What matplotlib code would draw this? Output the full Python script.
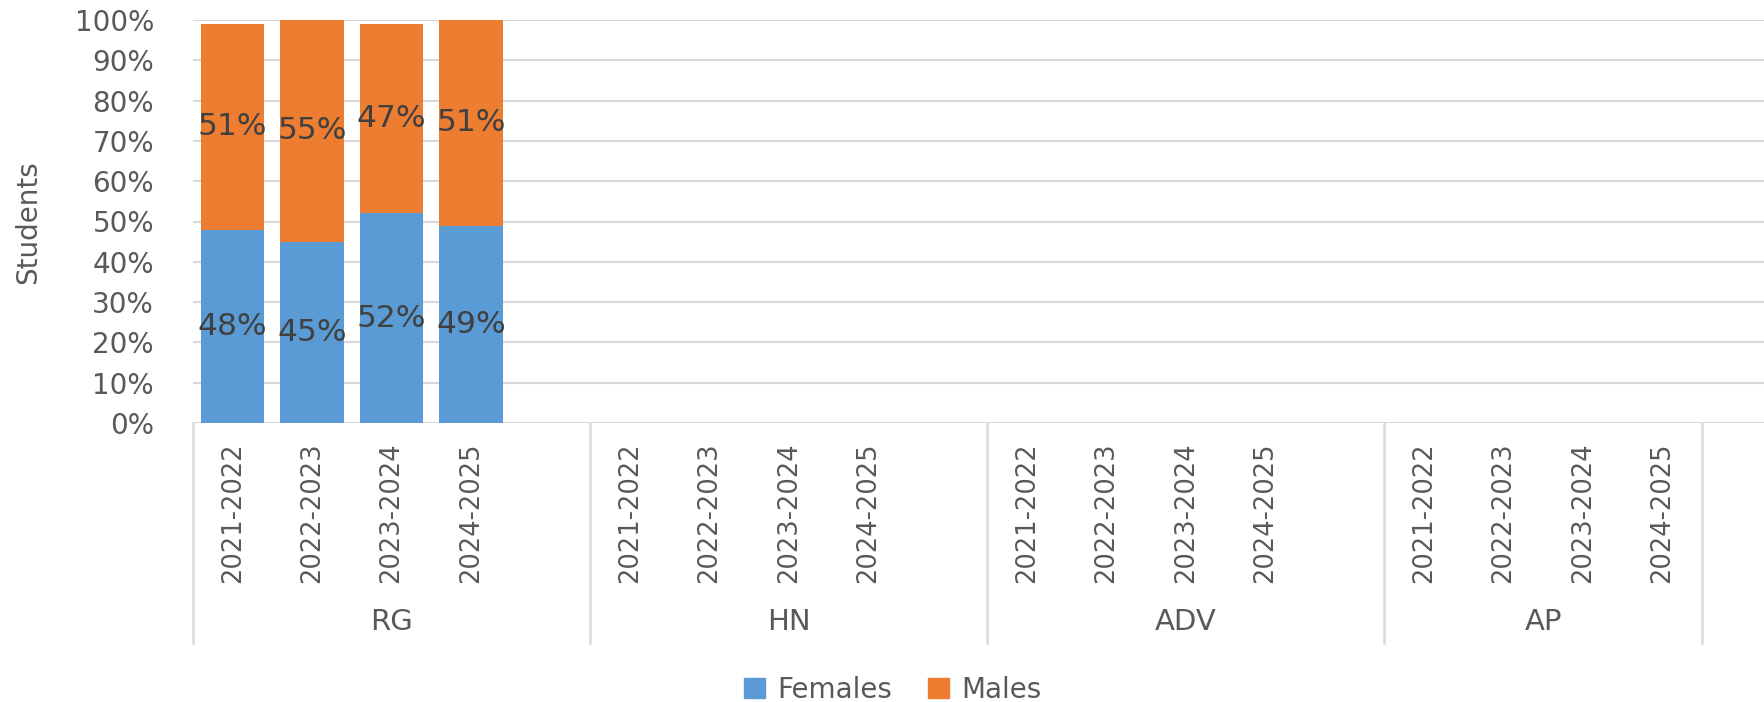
import numpy as np
import matplotlib
matplotlib.use('Agg')
import matplotlib.pyplot as plt
from matplotlib.patches import Patch
from matplotlib.transforms import blended_transform_factory

plt.rcParams['font.family'] = ['DejaVu Sans']

groups = ['RG', 'HN', 'ADV', 'AP']
years = ['2021-2022', '2022-2023', '2023-2024', '2024-2025']
# percent of students per year; only RG has data
females = {'RG': [48, 45, 52, 49], 'HN': [], 'ADV': [], 'AP': []}
males = {'RG': [51, 55, 47, 51], 'HN': [], 'ADV': [], 'AP': []}
yticks = [0, 10, 20, 30, 40, 50, 60, 70, 80, 90, 100]

blue = '#5B9BD5'
orange = '#ED7D31'
grid_c = '#d9d9d9'
text_c = '#595959'

fig = plt.figure(figsize=(17.65, 7.02), dpi=100)
ax = fig.add_axes([193 / 1765, 1 - 423 / 702, 1 - 193 / 1765, 403 / 702])

# category slots: 4 years per group, blank slot after every group but the last
xpos, xlab, seps, centers = [], [], [], []
x = 0
for gi, g in enumerate(groups):
    seps.append(x)
    start = x
    for y in years:
        xpos.append(x + 0.5)
        xlab.append(y)
        x += 1
    centers.append((start + x + (1 if gi < len(groups) - 1 else 0)) / 2)
    if gi < len(groups) - 1:
        x += 1
seps.append(x)

i = 0
for g in groups:
    pos = xpos[i:i + len(years)]
    f = females[g]
    m = males[g]
    if f:
        b1 = ax.bar(pos[:len(f)], f, width=0.8, color=blue, zorder=2)
        b2 = ax.bar(pos[:len(m)], m, bottom=f, width=0.8, color=orange, zorder=2)
        ax.bar_label(b1, labels=[f'{v}%' for v in f], label_type='center',
                     color='#404040', fontsize=22.5)
        ax.bar_label(b2, labels=[f'{v}%' for v in m], label_type='center',
                     color='#404040', fontsize=22.5)
    i += len(years)

ax.set_xlim(0, 1572 / 79.42)
ax.set_ylim(0, 100)
ax.set_yticks(yticks)
ax.set_yticklabels([f'{v}%' for v in yticks], fontsize=20, color=text_c)
ax.set_xticks(xpos)
ax.set_xticklabels(xlab, rotation=90, fontsize=18.5, color=text_c)
ax.tick_params(axis='both', length=0)
ax.tick_params(axis='y', pad=28)
ax.tick_params(axis='x', pad=14)
for s in ax.spines.values():
    s.set_visible(False)
ax.yaxis.grid(True, color=grid_c, linewidth=1.5, zorder=0)
ax.set_axisbelow(True)

trans = blended_transform_factory(ax.transData, ax.transAxes)
for s in seps:
    ax.plot([s, s], [0, -220 / 403], transform=trans, color=grid_c,
            linewidth=1.8, clip_on=False)
for c, g in zip(centers, groups):
    ax.text(c, -199 / 403, g, transform=trans, ha='center', va='center',
            fontsize=21, color=text_c)

fig.text(28 / 1765, 1 - 222 / 702, 'Students', rotation=90, ha='center',
         va='center', fontsize=20, color=text_c)

handles = [Patch(color=blue, label='Females'), Patch(color=orange, label='Males')]
fig.legend(handles=handles, loc='center', bbox_to_anchor=(893 / 1765, 1 - 690 / 702),
           ncol=2, frameon=False, fontsize=20, labelcolor=text_c,
           handlelength=0.75, handleheight=0.75, handletextpad=0.45,
           columnspacing=1.3)

fig.savefig('out.png', dpi=100)
